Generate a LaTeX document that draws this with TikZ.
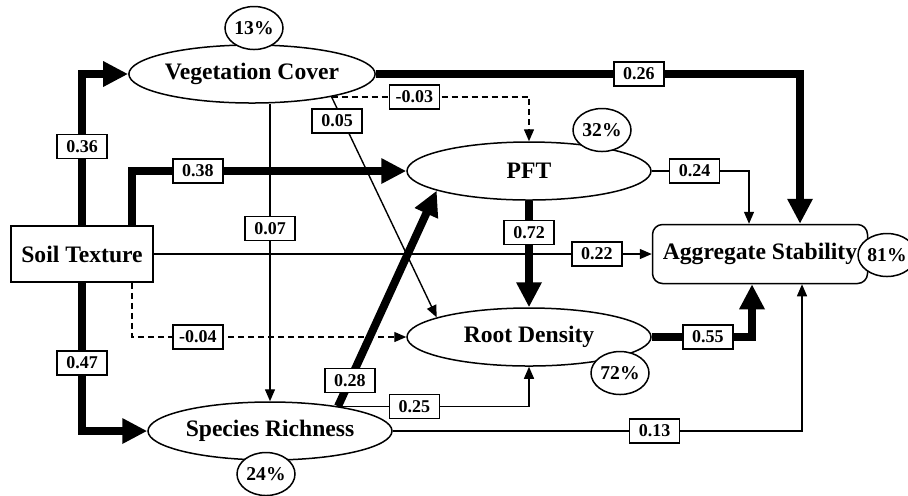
\documentclass[tikz,border=0pt]{standalone}
\usepackage{fontspec}
\setmainfont{Liberation Serif}
\usetikzlibrary{arrows.meta}
\usetikzlibrary{shapes.geometric}
\usetikzlibrary{calc}

\begin{document}
\begin{tikzpicture}[x=0.5pt,y=-0.5pt,
		latent/.style={draw,ellipse,fill=white,line width=0.75pt,minimum width=122pt,minimum height=29pt,inner sep=0pt,font=\bfseries\fontsize{11.8}{13}\selectfont},
		measured/.style={draw,rectangle,fill=white,line width=0.75pt,minimum width=71pt,minimum height=28pt,inner sep=0pt,font=\bfseries\fontsize{11.8}{13}\selectfont},
		rsq/.style={draw,ellipse,fill=white,line width=0.75pt,minimum width=29pt,minimum height=21.5pt,inner sep=0pt,font=\bfseries\fontsize{9.8}{11}\selectfont},
		coef/.style={draw,solid,rectangle,fill=white,line width=0.7pt,minimum width=25pt,minimum height=12pt,inner sep=0pt,font=\bfseries\fontsize{9}{10}\selectfont},
		weak/.style={line width=0.7pt,-{Triangle[length=6pt,width=5pt]}},
		strong/.style={line width=4pt,-{Triangle[length=12.5pt,width=12pt]}},
		negative/.style={weak,dash pattern=on 3pt off 2pt}]
	\useasboundingbox (0,0) rectangle (908,495);
	% draw variables
	\node[measured] (soil) at (82,254) {Soil Texture};
	\node[latent] (veg) at (252,74) {Vegetation Cover};
	\node[latent] (pft) at (529,171) {PFT};
	\node[latent] (root) at (529,337) {Root Density};
	\node[latent] (rich) at (270,431) {Species Richness};
	\node[measured,rounded corners=5pt,minimum width=107.5pt,minimum height=29.5pt] (agg) at (760,254) {Aggregate Stability};
	% explained variance
	\node[rsq] (vegr) at (254,28) {13\%};
	\node[rsq] (pftr) at (602,130) {32\%};
	\node[rsq] (rootr) at (620,373) {72\%};
	\node[rsq] (richr) at (266,474) {24\%};
	\node[rsq] (aggr) at (887,255) {81\%};
	% paths from soil texture
	\draw[strong] (soil.north) |- node[coef,pos=0.26] {0.36} (veg.west);
	\draw[strong] ([xshift=25pt]soil.north) |- node[coef,pos=0.62] {0.38} (pft.west);
	\draw[strong] (soil.south) |- node[coef,pos=0.27] {0.47} (rich.west);
	\draw[negative] ([xshift=25pt]soil.south) |- node[coef,pos=0.62] {-0.04} (root.west);
	\draw[weak] (soil.east) -- node[coef,pos=0.89] {0.22} (agg.west);
	% paths from vegetation cover
	\draw[strong] (veg.east) -| node[coef,pos=0.31] {0.26} ([xshift=20pt]agg.north);
	\draw[negative] (veg.-16) -| node[coef,pos=0.21] {-0.03} (pft.north);
	\draw[weak] (rich.north |- veg.south) -- node[coef,pos=0.42] {0.07} (rich.north);
	\draw[weak] (veg.-16) -- node[coef,pos=0.11,xshift=-3pt] {0.05} (root.168);
	% paths from species richness
	\draw[strong] (rich.20) -- node[coef,pos=0.12] {0.28} (pft.192);
	\draw[weak] (rich.20) -| node[coef,pos=0.2] {0.25} (root.south);
	\draw[weak] (rich.east) -| node[coef,pos=0.32] {0.13} ([xshift=21pt]agg.south);
	% paths from pft and root density
	\draw[strong] (pft.south) -- node[coef,pos=0.3] {0.72} (root.north);
	\draw[weak] (pft.east) -| node[coef,pos=0.22] {0.24} ([xshift=-5.5pt]agg.north);
	\draw[strong] (root.east) -| node[coef,pos=0.28] {0.55} ([xshift=-4pt]agg.south);
\end{tikzpicture}
\end{document}
